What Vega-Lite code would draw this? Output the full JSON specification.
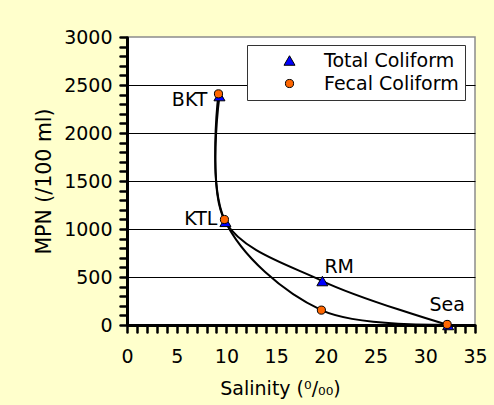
{
  "$schema": "https://vega.github.io/schema/vega-lite/v6.json",
  "autosize": "none",
  "width": 348,
  "height": 288,
  "padding": {"left": 127, "top": 37, "right": 19, "bottom": 80},
  "background": "#FFFFCC",
  "config": {
    "font": "DejaVu Sans",
    "view": {"fill": "white", "stroke": "#8c8c8c", "strokeWidth": 1.5},
    "axis": {
      "domainColor": "black",
      "domainWidth": 3,
      "tickColor": "black",
      "tickWidth": 2.5,
      "tickCap": "round",
      "labelColor": "black",
      "titleColor": "black",
      "labelFontSize": 19,
      "titleFontSize": 19,
      "titleFontWeight": "normal",
      "labelOverlap": false,
      "labelFlush": false
    }
  },
  "data": {
    "values": [
      {"series": "Total Coliform", "site": "BKT", "salinity": 9.3, "mpn": 2385},
      {"series": "Total Coliform", "site": "KTL", "salinity": 9.9, "mpn": 1075},
      {"series": "Total Coliform", "site": "RM", "salinity": 19.65, "mpn": 458},
      {"series": "Total Coliform", "site": "Sea", "salinity": 32.3, "mpn": 0},
      {"series": "Fecal Coliform", "site": "BKT", "salinity": 9.2, "mpn": 2408},
      {"series": "Fecal Coliform", "site": "KTL", "salinity": 9.8, "mpn": 1099},
      {"series": "Fecal Coliform", "site": "RM", "salinity": 19.55, "mpn": 155},
      {"series": "Fecal Coliform", "site": "Sea", "salinity": 32.2, "mpn": 6}
    ]
  },
  "encoding": {
    "x": {
      "field": "salinity",
      "type": "quantitative",
      "scale": {"domain": [0, 35], "nice": false},
      "axis": {
        "title": "Salinity (⁰/₀₀)",
        "values": [0,1,2,3,4,5,6,7,8,9,10,11,12,13,14,15,16,17,18,19,20,21,22,23,24,25,26,27,28,29,30,31,32,33,34,35],
        "labelExpr": "datum.value % 5 === 0 ? datum.label : ''",
        "grid": false,
        "tickSize": 7,
        "labelPadding": 15,
        "titlePadding": 13,
        "titleX": 153
      }
    },
    "y": {
      "field": "mpn",
      "type": "quantitative",
      "scale": {"domain": [0, 3000], "nice": false},
      "axis": {
        "title": "MPN (/100 ml)",
        "titleFontSize": 20.5,
        "values": [0,100,200,300,400,500,600,700,800,900,1000,1100,1200,1300,1400,1500,1600,1700,1800,1900,2000,2100,2200,2300,2400,2500,2600,2700,2800,2900,3000],
        "labelExpr": "datum.value % 500 === 0 ? datum.label : ''",
        "format": "d",
        "grid": true,
        "gridColor": "black",
        "gridWidth": 1,
        "gridOpacity": {"condition": {"test": "datum.value % 500 === 0 && datum.value > 0 && datum.value < 3000", "value": 1}, "value": 0},
        "tickSize": 7,
        "labelPadding": 8,
        "titlePadding": 9
      }
    }
  },
  "layer": [
    {
      "mark": {"type": "line", "interpolate": "catmull-rom", "color": "black", "strokeWidth": 2},
      "encoding": {"detail": {"field": "series"}}
    },
    {
      "mark": {"type": "point", "filled": true, "stroke": "black", "strokeWidth": 1, "opacity": 1},
      "encoding": {
        "fill": {
          "field": "series",
          "type": "nominal",
          "scale": {"domain": ["Total Coliform", "Fecal Coliform"], "range": ["#0000FF", "#FF6600"]},
          "legend": {
            "title": null,
            "orient": "none",
            "legendX": 120,
            "legendY": 8,
            "fillColor": "white",
            "strokeColor": "#333333",
            "padding": 6,
            "labelFontSize": 19,
            "labelColor": "black",
            "symbolOffset": 27,
            "labelOffset": 25,
            "rowPadding": 3,
            "symbolStrokeColor": "black",
            "symbolStrokeWidth": 1
          }
        },
        "shape": {
          "field": "series",
          "type": "nominal",
          "scale": {"domain": ["Total Coliform", "Fecal Coliform"], "range": ["triangle-up", "circle"]}
        },
        "size": {
          "field": "series",
          "type": "nominal",
          "scale": {"domain": ["Total Coliform", "Fecal Coliform"], "range": [121, 66]}
        }
      }
    },
    {
      "transform": [{"filter": "datum.series === 'Total Coliform' && datum.site === 'BKT'"}],
      "mark": {"type": "text", "align": "right", "baseline": "middle", "dx": -12, "dy": 4, "fontSize": 19, "color": "black"},
      "encoding": {"text": {"field": "site"}}
    },
    {
      "transform": [{"filter": "datum.series === 'Total Coliform' && datum.site === 'KTL'"}],
      "mark": {"type": "text", "align": "right", "baseline": "middle", "dx": -8, "dy": -3, "fontSize": 19, "color": "black"},
      "encoding": {"text": {"field": "site"}}
    },
    {
      "transform": [{"filter": "datum.series === 'Total Coliform' && datum.site === 'RM'"}],
      "mark": {"type": "text", "align": "left", "baseline": "middle", "dx": 2, "dy": -14, "fontSize": 19, "color": "black"},
      "encoding": {"text": {"field": "site"}}
    },
    {
      "transform": [{"filter": "datum.series === 'Total Coliform' && datum.site === 'Sea'"}],
      "mark": {"type": "text", "align": "center", "baseline": "middle", "dx": -1, "dy": -20, "fontSize": 19, "color": "black"},
      "encoding": {"text": {"field": "site"}}
    }
  ]
}
